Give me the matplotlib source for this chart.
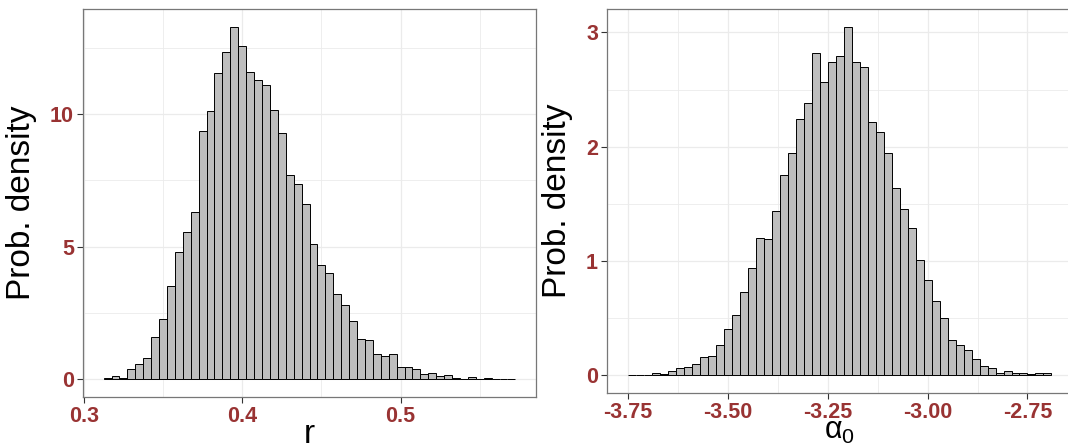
import numpy as np
import matplotlib
matplotlib.use("Agg")
import matplotlib.pyplot as plt
from matplotlib.ticker import FixedLocator

plt.rcParams['font.family'] = ['Liberation Sans', 'DejaVu Sans']
plt.rcParams['mathtext.fontset'] = 'custom'
plt.rcParams['mathtext.rm'] = 'Liberation Sans'
plt.rcParams['mathtext.it'] = 'Liberation Sans:italic'
plt.rcParams['mathtext.default'] = 'rm'

# histogram of r: bins of width 0.005 starting at 0.3125
r_start = 0.3125
r_width = 0.005
r_density = [0.05, 0.11, 0.05, 0.38, 0.59, 0.79, 1.60, 2.29, 3.53, 4.81,
             5.56, 6.32, 9.35, 10.13, 11.53, 12.33, 13.28, 12.56, 11.59, 11.28,
             11.09, 10.16, 9.29, 7.71, 7.37, 6.62, 5.11, 4.32, 4.01, 3.23,
             2.79, 2.21, 1.54, 1.49, 0.95, 0.88, 0.95, 0.45, 0.45, 0.38,
             0.19, 0.24, 0.11, 0.15, 0.06, 0.03, 0.08, 0.03, 0.05, 0.0,
             0.0, 0.03]
r_ticks = [0.3, 0.4, 0.5]
r_ticklabels = ["0.3", "0.4", "0.5"]
r_minor = [0.35, 0.45, 0.55]
r_yticks = [0, 5, 10]
r_yminor = [2.5, 7.5, 12.5]

# histogram of alpha_0: bins of width 0.02 starting at -3.75
a_start = -3.75
a_width = 0.02
a_density = [0.003, 0.0, 0.0, 0.02, 0.01, 0.035, 0.058, 0.07, 0.10, 0.157,
             0.166, 0.265, 0.40, 0.53, 0.73, 0.94, 1.20, 1.19, 1.44, 1.75,
             1.94, 2.24, 2.38, 2.82, 2.57, 2.74, 2.79, 3.05, 2.74, 2.70,
             2.22, 2.13, 1.94, 1.64, 1.45, 1.29, 1.01, 0.83, 0.65, 0.50,
             0.31, 0.26, 0.22, 0.14, 0.076, 0.058, 0.017, 0.035, 0.015, 0.015,
             0.006, 0.015, 0.015]
a_ticks = [-3.75, -3.50, -3.25, -3.00, -2.75]
a_ticklabels = ["-3.75", "-3.50", "-3.25", "-3.00", "-2.75"]
a_minor = [-3.625, -3.375, -3.125, -2.875]
a_yticks = [0, 1, 2, 3]
a_yminor = [0.5, 1.5, 2.5]

TICK_COL = "#993333"
GRID_COL = "#EBEBEB"


def draw_hist(axe, start, width, dens, xt, xtl, xminor, yt, yminor, xlabel):
    """Draw a ggplot-like density histogram on axe"""
    dens = np.asarray(dens)
    lefts = start + width * np.arange(len(dens))
    axe.bar(lefts, dens, width=width, align='edge', color='#BEBEBE',
            edgecolor='black', linewidth=0.7, zorder=2)
    # ggplot default 5% expansion
    lo, hi = lefts[0], lefts[-1] + width
    axe.set_xlim(lo - 0.05 * (hi - lo), hi + 0.05 * (hi - lo))
    axe.set_ylim(-0.05 * dens.max(), 1.05 * dens.max())
    axe.set_xticks(xt)
    axe.set_xticklabels(xtl)
    axe.set_yticks(yt)
    axe.xaxis.set_minor_locator(FixedLocator(xminor))
    axe.yaxis.set_minor_locator(FixedLocator(yminor))
    axe.grid(which='major', color=GRID_COL, linewidth=0.9, zorder=0)
    axe.grid(which='minor', color=GRID_COL, linewidth=0.6, zorder=0)
    axe.set_axisbelow(True)
    axe.tick_params(which='major', length=4, width=0.8, color='#333333',
                    labelsize=15.5, labelcolor=TICK_COL, pad=2.5)
    axe.tick_params(which='minor', length=0)
    for lab in axe.get_xticklabels() + axe.get_yticklabels():
        lab.set_fontweight('bold')
    for spine in axe.spines.values():
        spine.set_color('#777777')
        spine.set_linewidth(0.9)
    axe.set_ylabel("Prob. density", fontsize=24)
    axe.set_xlabel(xlabel, fontsize=24)
    axe.xaxis.label.set_va('baseline')


fig = plt.figure(figsize=(10.68, 4.46), dpi=100)
W, H = 1068.0, 446.0

ax1 = fig.add_axes([83 / W, (H - 397) / H, 453 / W, 387.7 / H])
draw_hist(ax1, r_start, r_width, r_density, r_ticks, r_ticklabels, r_minor,
          r_yticks, r_yminor, "r")
ax1.yaxis.set_label_coords(-0.1015, 0.5)
ax1.xaxis.set_label_coords(0.5, -0.119)

ax2 = fig.add_axes([607 / W, (H - 392.5) / H, 465.6 / W, 383.2 / H])
draw_hist(ax2, a_start, a_width, a_density, a_ticks, a_ticklabels, a_minor,
          a_yticks, a_yminor, r"$\alpha_0$")
ax2.xaxis.label.set_fontsize(22)
ax2.yaxis.set_label_coords(-0.073, 0.5)
ax2.xaxis.set_label_coords(0.5, -0.1215)

fig.savefig("out.png", dpi=100)
